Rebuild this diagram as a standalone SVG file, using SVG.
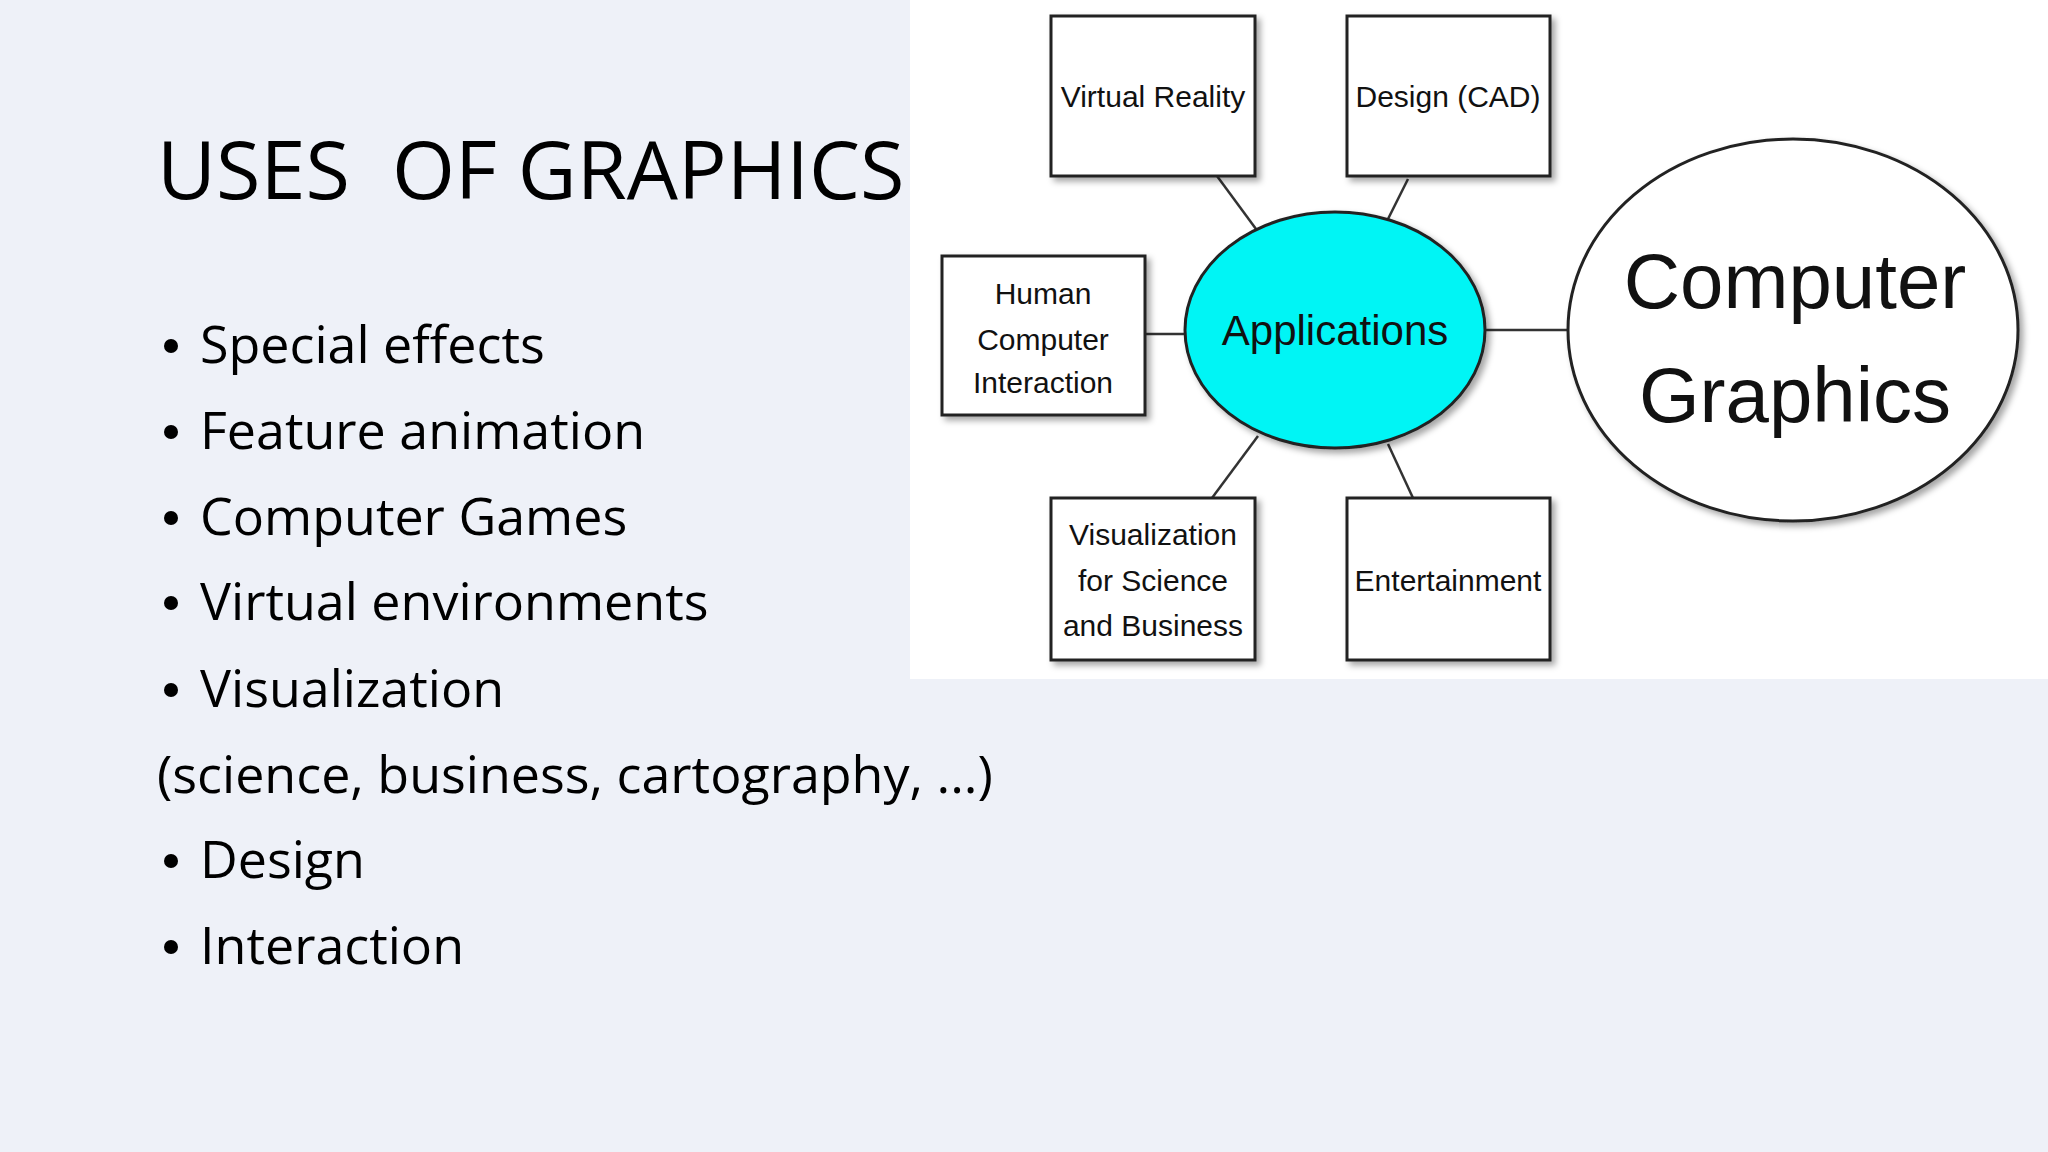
<svg xmlns="http://www.w3.org/2000/svg" width="2048" height="1152" viewBox="0 0 2048 1152">
<style>
.b{font-family:"Open Sans","Liberation Sans",sans-serif;font-size:52px;fill:#000}
.box{fill:#fff;stroke:#222;stroke-width:3}
.bl{font-family:"Liberation Sans",Arial,sans-serif;font-size:30px;fill:#111;text-anchor:middle}
.ln{stroke:#333;stroke-width:2.5}
</style>
<defs><filter id="sh" x="-10%" y="-10%" width="130%" height="130%"><feDropShadow dx="4" dy="4" stdDeviation="3" flood-color="#000" flood-opacity="0.35"/></filter></defs>
<rect width="2048" height="1152" fill="#eef1f8"/>
<rect x="910" y="0" width="1138" height="679" fill="#fff"/>
<text x="157" y="199" font-family="'Open Sans','Liberation Sans',sans-serif" font-size="81" fill="#000" xml:space="preserve">USES  OF GRAPHICS</text>
<g id="bullets" class="b">
<g fill="#000"><circle cx="171" cy="346" r="7"/><circle cx="171" cy="432" r="7"/><circle cx="171" cy="518" r="7"/><circle cx="171" cy="603" r="7"/><circle cx="171" cy="690" r="7"/><circle cx="171" cy="861" r="7"/><circle cx="171" cy="947" r="7"/></g>
<text x="200" y="363">Special effects</text>
<text x="200" y="449">Feature animation</text>
<text x="200" y="535">Computer Games</text>
<text x="200" y="620">Virtual environments</text>
<text x="200" y="707">Visualization</text>
<text x="157" y="793">(science, business, cartography, ...)</text>
<text x="200" y="878">Design</text>
<text x="200" y="964">Interaction</text>
</g>
<g id="connectors" class="ln">
<line x1="1217" y1="176" x2="1256" y2="229"/>
<line x1="1408" y1="179" x2="1388" y2="219"/>
<line x1="1145" y1="334" x2="1185" y2="334"/>
<line x1="1212" y1="498" x2="1258" y2="436"/>
<line x1="1413" y1="498" x2="1388" y2="444"/>
<line x1="1486" y1="330" x2="1567" y2="330"/>
</g>
<g id="vr"><rect class="box" x="1051" y="16" width="204" height="160" filter="url(#sh)"/><text class="bl" x="1153" y="107">Virtual Reality</text></g>
<g id="cad"><rect class="box" x="1347" y="16" width="203" height="160" filter="url(#sh)"/><text class="bl" x="1448" y="107">Design (CAD)</text></g>
<g id="hci"><rect class="box" x="942" y="256" width="203" height="159" filter="url(#sh)"/><text class="bl" x="1043" y="304">Human</text><text class="bl" x="1043" y="350">Computer</text><text class="bl" x="1043" y="393">Interaction</text></g>
<g id="vis"><rect class="box" x="1051" y="498" width="204" height="162" filter="url(#sh)"/><text class="bl" x="1153" y="545">Visualization</text><text class="bl" x="1153" y="591">for Science</text><text class="bl" x="1153" y="636">and Business</text></g>
<g id="ent"><rect class="box" x="1347" y="498" width="203" height="162" filter="url(#sh)"/><text class="bl" x="1448" y="591">Entertainment</text></g>
<g id="apps"><ellipse cx="1335" cy="330" rx="150" ry="118" fill="#00f5f5" stroke="#222" stroke-width="3" filter="url(#sh)"/><text class="bl" x="1335" y="345" style="font-size:42px">Applications</text></g>
<g id="cg"><ellipse cx="1793" cy="330" rx="225" ry="191" fill="#fff" stroke="#222" stroke-width="3" filter="url(#sh)"/><text class="bl" x="1795" y="308" style="font-size:78px">Computer</text><text class="bl" x="1795" y="422" style="font-size:78px">Graphics</text></g>
</svg>
